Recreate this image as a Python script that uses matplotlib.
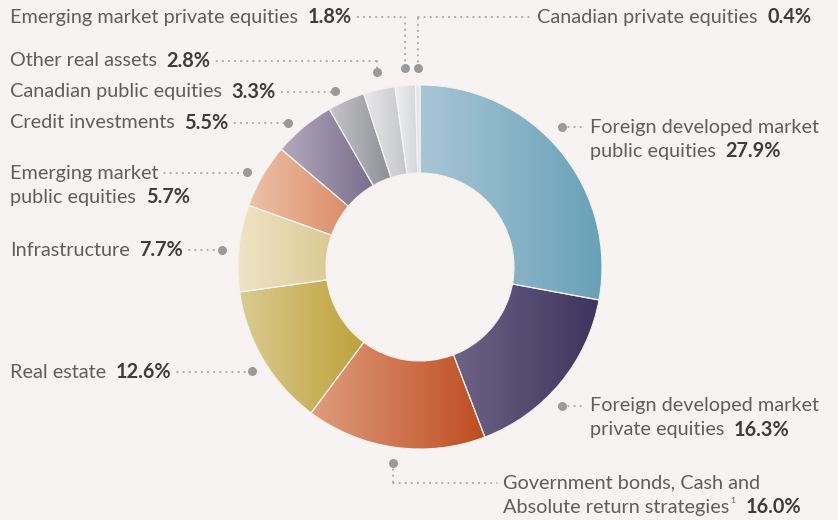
import numpy as np
import matplotlib
matplotlib.use("Agg")
import matplotlib.pyplot as plt
from matplotlib.colors import LinearSegmentedColormap
from matplotlib.patches import Wedge

# Data: asset mix, clockwise from 12 o'clock
categories = [
    "Foreign developed market public equities",
    "Foreign developed market private equities",
    "Government bonds, Cash and Absolute return strategies",
    "Real estate",
    "Infrastructure",
    "Emerging market public equities",
    "Credit investments",
    "Canadian public equities",
    "Other real assets",
    "Emerging market private equities",
    "Canadian private equities",
]
values = [27.9, 16.3, 16.0, 12.6, 7.7, 5.7, 5.5, 3.3, 2.8, 1.8, 0.4]

# gradient (left -> right) for each wedge
grad_left = ["#a8c6d6", "#6c6384", "#df9d7e", "#dacb90", "#efe4c6",
             "#edc1a8", "#b4aabd", "#c6c6c9", "#e8e8ea", "#f0f0f1", "#e8eaec"]
grad_right = ["#68a1b8", "#3d345e", "#bf4c20", "#bea139", "#dcc993",
              "#db8c66", "#7a6e8e", "#8e8f95", "#c4c5c9", "#d4d5d9", "#dfe1e4"]

BG = "#f6f3f2"
LABEL_C = "#5e5e5e"
NUM_C = "#3d3d3d"
DOT_C = "#9a9a9d"
FONT = "Lato"
FS = 14.3

W, H = 838, 520

def Y(y):
    # pixel row -> data y
    return H - y

# label layout: lines, text x, first line y, dot position, leader route
layout = {
    "Emerging market private equities": dict(lines=["Emerging market private equities"], x=10, y=17, dot=(405, 68), side="left"),
    "Other real assets": dict(lines=["Other real assets"], x=10, y=61, dot=(377, 72), side="left"),
    "Canadian public equities": dict(lines=["Canadian public equities"], x=10, y=92, dot=(335, 91), side="left"),
    "Credit investments": dict(lines=["Credit investments"], x=10, y=123, dot=(288, 123), side="left"),
    "Emerging market public equities": dict(lines=["Emerging market", "public equities"], x=10, y=173, dot=(247, 172), side="left"),
    "Infrastructure": dict(lines=["Infrastructure"], x=10, y=250, dot=(222, 250), side="left"),
    "Real estate": dict(lines=["Real estate"], x=10, y=372, dot=(252, 371), side="left"),
    "Canadian private equities": dict(lines=["Canadian private equities"], x=537, y=17, dot=(418, 68), side="top"),
    "Foreign developed market public equities": dict(lines=["Foreign developed market", "public equities"], x=590, y=127, dot=(562, 127), side="right"),
    "Foreign developed market private equities": dict(lines=["Foreign developed market", "private equities"], x=590, y=406, dot=(562, 406), side="right"),
    "Government bonds, Cash and Absolute return strategies": dict(lines=["Government bonds, Cash and", "Absolute return strategies"], x=503, y=483, dot=(393, 463), side="bottom", sup="1"),
}
LINE_H = 24

fig = plt.figure(figsize=(W / 100, H / 100), dpi=100, facecolor=BG)
ax = fig.add_axes([0, 0, 1, 1])
ax.set_facecolor(BG)

R_OUT, R_IN = 182, 94
CX, CY = 420, Y(267)
wedges, _ = ax.pie(values, radius=R_OUT, center=(CX, CY), startangle=90,
                   counterclock=False, colors=grad_right,
                   wedgeprops=dict(width=R_OUT - R_IN, linewidth=0))

grad = np.linspace(0, 1, 256).reshape(1, -1)
for w, c0, c1 in zip(wedges, grad_left, grad_right):
    ext = w.get_path().get_extents()
    cmap = LinearSegmentedColormap.from_list("g", [c0, c1])
    im = ax.imshow(grad, extent=(ext.x0, ext.x1, ext.y0, ext.y1), cmap=cmap,
                   aspect="auto", interpolation="bilinear", zorder=2)
    im.set_clip_path(w)
    # thin separators
    ax.add_patch(Wedge(w.center, w.r, w.theta1, w.theta2, width=w.width,
                       fc="none", ec=BG, lw=0.8, zorder=3))

ax.set_xlim(0, W)
ax.set_ylim(0, H)
ax.set_aspect("equal")
ax.axis("off")

dot_line = dict(color=DOT_C, lw=1.1, linestyle=(0, (0.6, 3.4)), dash_capstyle="round", zorder=4)

def leader(xs, ys):
    ax.plot(xs, [Y(v) for v in ys], **dot_line)

for cat, val in zip(categories, values):
    lay = layout[cat]
    x, y0 = lay["x"], lay["y"]
    txts = []
    for i, line in enumerate(lay["lines"]):
        t = ax.text(x, Y(y0 + i * LINE_H), line, fontsize=FS, family=FONT,
                    color=LABEL_C, va="center", ha="left")
        txts.append(t)
    last = txts[-1]
    if lay.get("sup"):
        sup = ax.annotate(lay["sup"], xy=(1, 0.5), xycoords=last,
                          xytext=(1, 5), textcoords="offset points",
                          fontsize=6, family=FONT, color=LABEL_C,
                          va="center", ha="left")
        num = ax.annotate(f"{val:.1f}%", xy=(1, 0.5), xycoords=(sup, last),
                          xytext=(7, 0), textcoords="offset points",
                          fontsize=FS, family=FONT, fontweight="bold",
                          color=NUM_C, va="center", ha="left")
    else:
        num = ax.annotate(f"{val:.1f}%", xy=(1, 0.5), xycoords=last,
                          xytext=(7, 0), textcoords="offset points",
                          fontsize=FS, family=FONT, fontweight="bold",
                          color=NUM_C, va="center", ha="left")

    dx, dy = lay["dot"]
    ax.plot(dx, Y(dy), "o", ms=6.5, color=DOT_C, mec="none", zorder=5)

    side = lay["side"]
    if side == "left":
        start = num if len(txts) == 1 else txts[0]
        ax.annotate("", xy=(dx, Y(y0)), xycoords="data",
                    xytext=(1, 0.5), textcoords=start,
                    arrowprops=dict(arrowstyle="-", color=DOT_C, lw=1.1,
                                    linestyle=(0, (0.6, 3.4)), capstyle="round",
                                    shrinkA=4, shrinkB=0))
        if abs(dy - y0) > 2:
            leader([dx, dx], [y0, dy])
    elif side == "right":
        leader([dx + 6, x - 5], [dy, y0])
    elif side == "top":
        leader([dx, dx], [dy, y0])
        leader([dx, x - 7], [y0, y0])
    elif side == "bottom":
        leader([dx, dx], [dy, y0])
        leader([dx, x - 6], [y0, y0])

fig.savefig("out.png", dpi=100, facecolor=BG)
